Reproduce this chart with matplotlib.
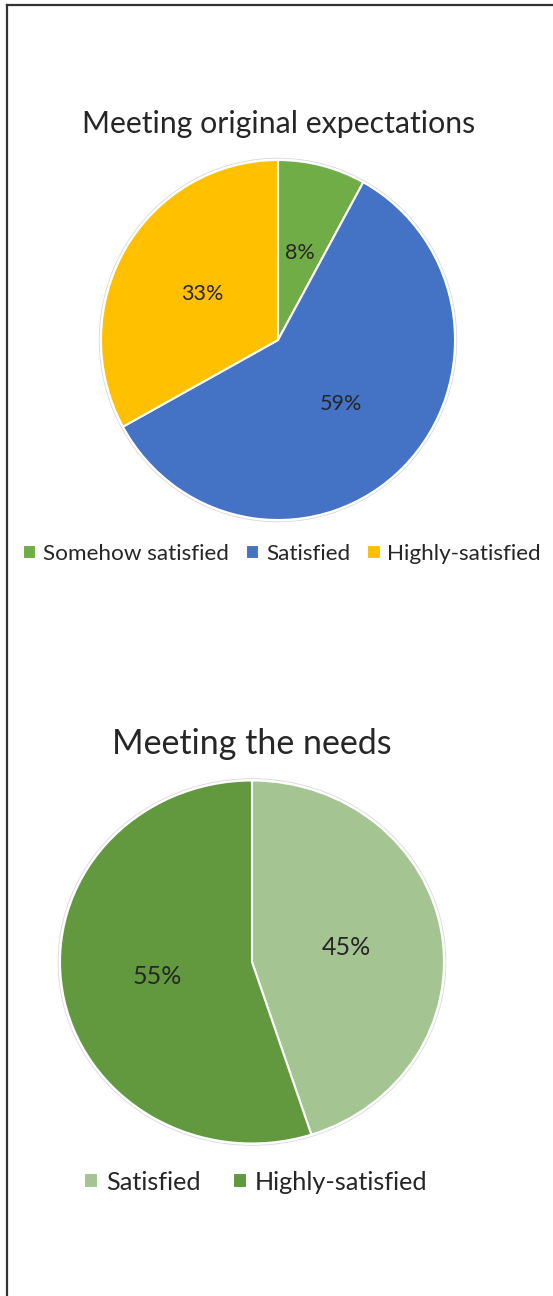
import matplotlib.pyplot as plt
from matplotlib.lines import Line2D
from matplotlib.patches import Ellipse

plt.rcParams['font.family'] = ['Lato', 'DejaVu Sans']

# Data
exp_labels = ["Somehow satisfied", "Satisfied", "Highly-satisfied"]
exp_values = [8, 59, 33]
exp_colors = ["#70AD47", "#4472C4", "#FFC000"]

needs_labels = ["Satisfied", "Highly-satisfied"]
needs_values = [45, 55]
needs_colors = ["#A4C591", "#62993F"]

W, H = 553, 1296
fig = plt.figure(figsize=(W / 100, H / 100), dpi=100)
text_color = "#262626"


def pie_axes(cx, cy, rx, ry):
    return fig.add_axes([(cx - rx) / W, 1 - (cy + ry) / H, 2 * rx / W, 2 * ry / H])


def draw_pie(ax, values, colors, pct_size):
    wedges, _, _ = ax.pie(values, colors=colors, startangle=90, counterclock=False,
                          autopct=lambda p: f"{round(p)}%", pctdistance=0.5,
                          wedgeprops=dict(edgecolor="white", linewidth=1.5),
                          textprops=dict(fontsize=pct_size, color=text_color))
    ax.add_patch(Ellipse((0, 0), 2.02, 2.02, fill=False, edgecolor="#d9d9d9", linewidth=0.6))
    ax.set_xlim(-1.02, 1.02)
    ax.set_ylim(-1.02, 1.02)
    ax.set_aspect("auto")
    return wedges


# Chart 1
ax1 = pie_axes(278, 340, 177 * 1.02, 180 * 1.02)
w1 = draw_pie(ax1, exp_values, exp_colors, 15.5)
fig.text(279 / W, 1 - 124 / H, "Meeting original expectations", ha="center", va="center",
         fontsize=21.8, color=text_color)
fig.legend(w1, exp_labels, loc="center", bbox_to_anchor=(282 / W, 1 - 554 / H), ncol=3,
           frameon=False, fontsize=16.2, handlelength=0.6, handleheight=0.6,
           handletextpad=0.3, columnspacing=0.75, labelcolor=text_color)

# Chart 2
ax2 = pie_axes(252, 962, 192 * 1.02, 181.5 * 1.02)
w2 = draw_pie(ax2, needs_values, needs_colors, 18)
fig.text(252 / W, 1 - 744 / H, "Meeting the needs", ha="center", va="center",
         fontsize=24.5, color=text_color)
fig.legend(w2, needs_labels, loc="center", bbox_to_anchor=(256 / W, 1 - 1182 / H), ncol=2,
           frameon=False, fontsize=18.2, handlelength=0.55, handleheight=0.55,
           handletextpad=0.3, columnspacing=1.3, labelcolor=text_color)

# Border (top and left edges only visible)
fig.add_artist(Line2D([7 / W, 7 / W], [0, 1 - 5 / H], color="#333333", linewidth=1.6))
fig.add_artist(Line2D([7 / W, 1], [1 - 5 / H, 1 - 5 / H], color="#333333", linewidth=1.6))

fig.savefig("out.png", dpi=100, facecolor="white")
